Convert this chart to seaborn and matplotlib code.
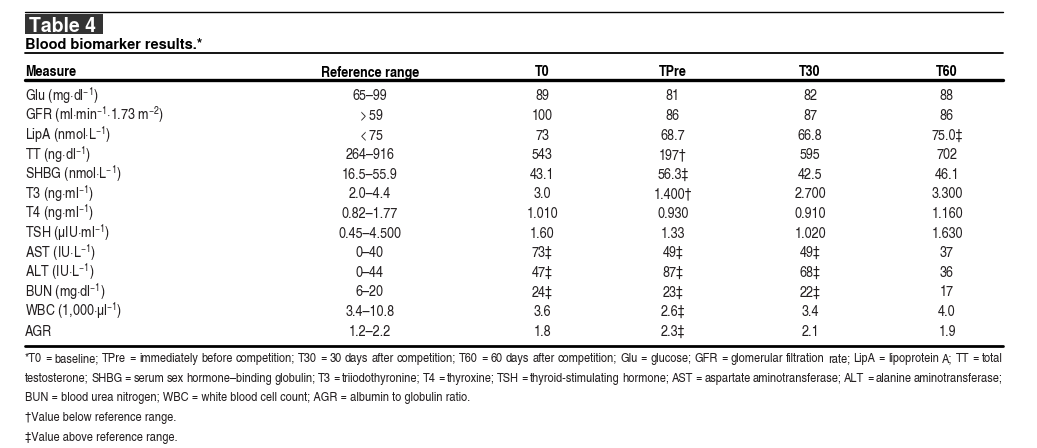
import pandas as pd
import matplotlib.pyplot as plt
import seaborn as sns
from matplotlib import font_manager as fm

measures = [
    "Glu (mg·dl$^{-1}$)",
    "GFR (ml·min$^{-1}$·1.73 m$^{-2}$)",
    "LipA (nmol·L$^{-1}$)",
    "TT (ng·dl$^{-1}$)",
    "SHBG (nmol·L$^{-1}$)",
    "T3 (ng·ml$^{-1}$)",
    "T4 (ng·ml$^{-1}$)",
    "TSH (µIU·ml$^{-1}$)",
    "AST (IU·L$^{-1}$)",
    "ALT (IU·L$^{-1}$)",
    "BUN (mg·dl$^{-1}$)",
    "WBC (1,000·µl$^{-1}$)",
    "AGR",
]
ref_range = ["65–99", "$>$59", "$<$75", "264–916", "16.5–55.9", "2.0–4.4", "0.82–1.77",
             "0.45–4.500", "0–40", "0–44", "6–20", "3.4–10.8", "1.2–2.2"]
t0 = ["89", "100", "73", "543", "43.1", "3.0", "1.010", "1.60", "73‡", "47‡", "24‡", "3.6", "1.8"]
tpre = ["81", "86", "68.7", "197†", "56.3‡", "1.400†", "0.930", "1.33", "49‡", "87‡", "23‡", "2.6‡", "2.3‡"]
t30 = ["82", "87", "66.8", "595", "42.5", "2.700", "0.910", "1.020", "49‡", "68‡", "22‡", "3.4", "2.1"]
t60 = ["88", "86", "75.0‡", "702", "46.1", "3.300", "1.160", "1.630", "37", "36", "17", "4.0", "1.9"]

headers = ["Measure", "Reference range", "T0", "TPre", "T30", "T60"]
footnotes = [
    "*T0 = baseline; TPre = immediately before competition; T30 = 30 days after competition; T60 = 60 days after competition; "
    "Glu = glucose; GFR = glomerular filtration rate; LipA = lipoprotein A; TT = total",
    "testosterone; SHBG = serum sex hormone–binding globulin; T3 = triiodothyronine; T4 = thyroxine; "
    "TSH = thyroid-stimulating hormone; AST = aspartate aminotransferase; ALT = alanine aminotransferase;",
    "BUN = blood urea nitrogen; WBC = white blood cell count; AGR = albumin to globulin ratio.",
    "†Value below reference range.",
    "‡Value above reference range.",
]

table = pd.DataFrame({"Measure": measures, "Reference range": ref_range,
                      "T0": t0, "TPre": tpre, "T30": t30, "T60": t60})


# Helvetica Condensed look-alike with a real bold face, if we have one
def has_bold(name):
    return any(f.name == name and f.weight in (600, 700, "bold", "semibold") for f in fm.fontManager.ttflist)


narrow_name = "DejaVu Sans"
for cand in ["TeX Gyre Heros Cn", "Roboto Condensed", "IBM Plex Sans Condensed"]:
    if has_bold(cand):
        narrow_name = cand
        break
wide_name = "TeX Gyre Heros" if has_bold("TeX Gyre Heros") else "Liberation Sans"

sns.set_theme(style="white")
plt.rcParams["font.family"] = [narrow_name, "DejaVu Sans"]
plt.rcParams["font.stretch"] = "condensed"
plt.rcParams["mathtext.fontset"] = "custom"
plt.rcParams["mathtext.rm"] = narrow_name
plt.rcParams["mathtext.it"] = narrow_name + ":italic"
plt.rcParams["mathtext.bf"] = narrow_name + ":bold"

fig = plt.figure(figsize=(10.37, 4.48), dpi=100)
ax = fig.add_axes([0, 0, 1, 1])
ax.set_xlim(0, 1037)
ax.set_ylim(448, 0)
ax.axis("off")
renderer = fig.canvas.get_renderer()

left, right = 25, 1003
col_x = {"Reference range": 370, "T0": 542, "TPre": 673, "T30": 810, "T60": 947}
ink = "#231f20"
body_size = 11


def base(y_mid, size):
    # baseline that puts the cap height centred on y_mid (pixels, y down)
    return y_mid + 0.36 * size * 100 / 72


# title block
ax.plot([left, right], [12, 12], color="black", lw=1.0)
ax.add_patch(plt.Rectangle((left, 14), 78, 20, color="#333333", lw=0))
ax.text(left + 4, base(24.5, 14), "Table 4", color="white", fontsize=14, fontweight="bold",
        family=[wide_name, "DejaVu Sans"], fontstretch="normal", va="baseline", ha="left")
ax.text(left, base(44, 10.5), "Blood biomarker results.*", color="black", fontsize=10.5,
        fontweight="bold", family=[wide_name, "DejaVu Sans"], fontstretch="normal",
        va="baseline", ha="left")
ax.plot([left, right], [53, 53], color="black", lw=1.3)

# header
header_y = base(71, body_size)
for h in headers:
    if h == "Measure":
        ax.text(left, header_y, h, fontsize=body_size, fontweight="bold", color="black",
                va="baseline", ha="left")
    else:
        ax.text(col_x[h], header_y, h, fontsize=body_size, fontweight="bold", color="black",
                va="baseline", ha="center")
ax.plot([left, right], [80, 80], color="black", lw=2.4)

# body rows
row_y0, row_step = 95, 19.6
for i, row in table.iterrows():
    y = base(row_y0 + i * row_step, body_size)
    ax.text(left, y, row["Measure"], fontsize=body_size, color=ink, va="baseline", ha="left")
    for c in headers[1:]:
        ax.text(col_x[c], y, row[c], fontsize=body_size, color=ink, va="baseline", ha="center")
ax.plot([left, right], [346, 346], color="black", lw=2.0)


def width_of(s, size):
    t = ax.text(0, 0, s, fontsize=size)
    w = t.get_window_extent(renderer).width
    t.remove()
    return w


# footnotes: size chosen so the first line fills the measure, second line justified
foot_size = 9.0
foot_size *= (right - left) / width_of(footnotes[0], foot_size)
foot_y0, foot_step = 357, 19.7
for j, line in enumerate(footnotes):
    y = base(foot_y0 + j * foot_step, foot_size)
    if j < 2:
        words = line.split(" ")
        widths = [width_of(w, foot_size) for w in words]
        gap = (right - left - sum(widths)) / (len(words) - 1)
        x = left
        for w, wd in zip(words, widths):
            ax.text(x, y, w, fontsize=foot_size, color=ink, va="baseline", ha="left")
            x += wd + gap
    else:
        ax.text(left, y, line, fontsize=foot_size, color=ink, va="baseline", ha="left")

fig.savefig("out.png", dpi=100)
